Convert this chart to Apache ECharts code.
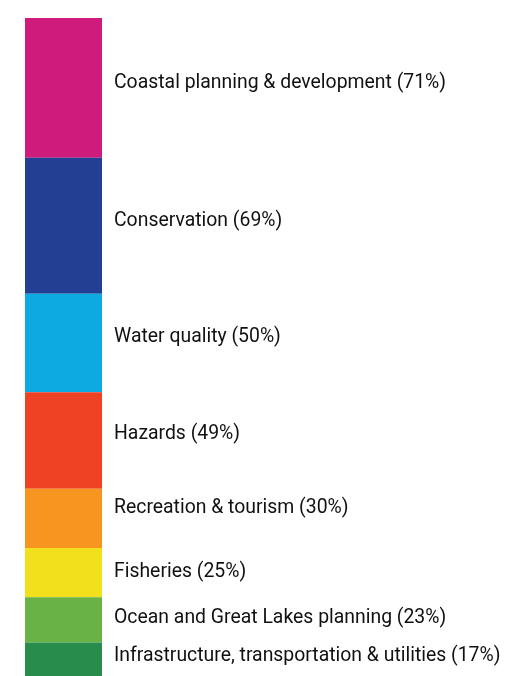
<!DOCTYPE html>
<html>
<head>
<meta charset="utf-8">
<script src="https://cdn.jsdelivr.net/npm/echarts@6/dist/echarts.min.js"></script>
<style>
  html, body { margin: 0; padding: 0; background: #fff; }
  #chart { width: 509px; height: 676px; }
</style>
</head>
<body>
<div id="chart"></div>
<script>
// topics, top to bottom
const topics = [
  'Coastal planning & development',
  'Conservation',
  'Water quality',
  'Hazards',
  'Recreation & tourism',
  'Fisheries',
  'Ocean and Great Lakes planning',
  'Infrastructure, transportation & utilities'
];
const shares = [71, 69, 50, 49, 30, 25, 23, 17];
const colors = ['#cf1b7b', '#233f93', '#0caae1', '#ef4224', '#f6951f', '#f1e01b', '#68b246', '#278c4c'];
// small nudges so labels sit where the original puts them
const labelShift = [-5, -5, -6, -6, -10, 0, -2, -3];

const chart = echarts.init(document.getElementById('chart'));

const series = topics.map((name, i) => ({
  name: name,
  type: 'bar',
  stack: 'all',
  barWidth: '100%',
  data: [shares[i]],
  itemStyle: { color: colors[i] },
  label: {
    show: true,
    position: 'right',
    distance: 12,
    offset: [0, labelShift[i]],
    formatter: () => `${name} (${shares[i]}%)`,
    color: '#111',
    fontFamily: 'Roboto, sans-serif',
    fontSize: 19.4
  }
}));

chart.setOption({
  animation: false,
  grid: { left: 25, top: 18, width: 77, height: 662 },
  xAxis: { type: 'category', data: [''], show: false },
  yAxis: { type: 'value', min: 0, max: 334, inverse: true, show: false },
  series: series
});
</script>
</body>
</html>
